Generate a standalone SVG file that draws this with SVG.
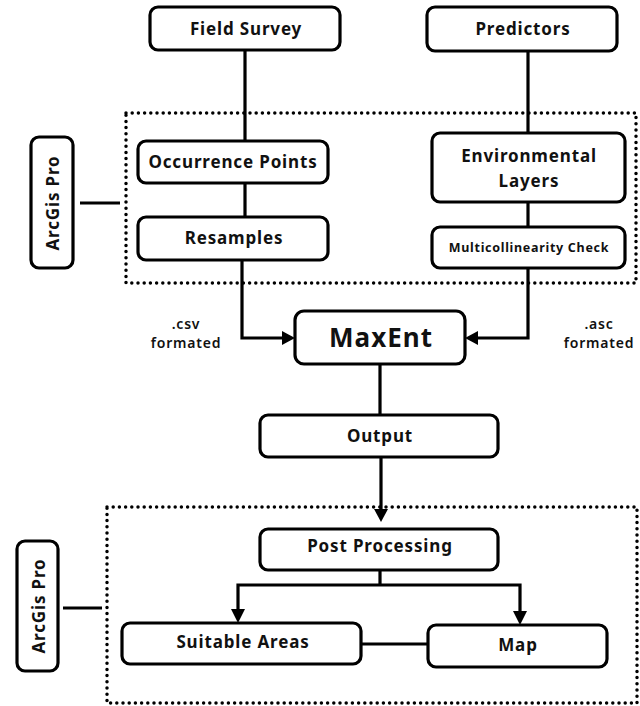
<svg xmlns="http://www.w3.org/2000/svg" width="640" height="706" viewBox="0 0 640 706">
<style>
.box{fill:#fff;stroke:#000;stroke-width:3.2}
.dot{fill:none;stroke:#000;stroke-width:3.5;stroke-dasharray:0 6.2;stroke-linecap:round}
.ln{fill:none;stroke:#000;stroke-width:3.2}
text{font-family:"Noto Sans","DejaVu Sans",sans-serif;font-weight:700;fill:#111;text-anchor:middle;dominant-baseline:central}
.t{font-size:17px;letter-spacing:0.85px}
.s{font-size:12.5px;letter-spacing:0.7px}
.m{font-size:14px;font-weight:600;letter-spacing:0.8px}
.big{font-size:26px;letter-spacing:1px}
</style>
<rect width="640" height="706" fill="#fff"/>
<g id="groups">
<rect class="dot" x="126" y="113" width="510" height="170"/>
<rect class="dot" x="107" y="507" width="530" height="196"/>
</g>
<g id="connectors">
<line class="ln" x1="245" y1="50" x2="245" y2="141"/>
<line class="ln" x1="245" y1="183" x2="245" y2="217"/>
<line class="ln" x1="528" y1="51" x2="528" y2="133"/>
<line class="ln" x1="528" y1="202" x2="528" y2="227"/>
<polyline class="ln" points="242,260 242,338 282,338"/>
<path d="M282,331 L295,338 L282,345 z"/>
<polyline class="ln" points="528,268 528,338 478,338"/>
<path d="M478,331 L465,338 L478,345 z"/>
<line class="ln" x1="380" y1="364" x2="380" y2="415"/>
<line class="ln" x1="381" y1="457" x2="381" y2="510"/>
<path d="M374,509 L381,522 L388,509 z"/>
<line class="ln" x1="380" y1="570" x2="380" y2="585"/>
<polyline class="ln" points="238,610 238,585 520,585 520,612"/>
<path d="M231,609 L238,623 L245,609 z"/>
<path d="M513,611 L520,625 L527,611 z"/>
<line class="ln" x1="361" y1="644" x2="428" y2="644"/>
<line class="ln" x1="80" y1="203" x2="120" y2="203"/>
<line class="ln" x1="63" y1="608" x2="102" y2="608"/>
</g>
<g id="field-survey"><rect class="box" x="150" y="7" width="190" height="43" rx="8"/><text class="t" x="246" y="28">Field Survey</text></g>
<g id="predictors"><rect class="box" x="427" y="7" width="190" height="44" rx="8"/><text class="t" x="523" y="28">Predictors</text></g>
<g id="occurrence-points"><rect class="box" x="138" y="141" width="190" height="42" rx="8"/><text class="t" x="233" y="161">Occurrence Points</text></g>
<g id="resamples"><rect class="box" x="138" y="217" width="190" height="43" rx="8"/><text class="t" x="234" y="237">Resamples</text></g>
<g id="environmental-layers"><rect class="box" x="432" y="133" width="193" height="69" rx="8"/><text class="t" x="529" y="155">Environmental</text><text class="t" x="529" y="180">Layers</text></g>
<g id="multicollinearity-check"><rect class="box" x="432" y="227" width="193" height="41" rx="8"/><text class="s" x="529" y="247">Multicollinearity Check</text></g>
<g id="arcgis-top"><rect class="box" x="31" y="137" width="42" height="131" rx="8"/><text class="t" transform="translate(52,203) rotate(-90)" x="0" y="0">ArcGis Pro</text></g>
<g id="maxent"><rect class="box" x="295" y="311" width="170" height="53" rx="9"/><text class="big" x="381" y="337">MaxEnt</text></g>
<g id="csv-label"><text class="m" x="186" y="323">.csv</text><text class="m" x="186" y="342">formated</text></g>
<g id="asc-label"><text class="m" x="599" y="323">.asc</text><text class="m" x="599" y="342">formated</text></g>
<g id="output"><rect class="box" x="260" y="415" width="238" height="42" rx="8"/><text class="t" x="380" y="435">Output</text></g>
<g id="post-processing"><rect class="box" x="260" y="529" width="238" height="41" rx="8"/><text class="t" x="380" y="545">Post Processing</text></g>
<g id="suitable-areas"><rect class="box" x="122" y="623" width="239" height="41" rx="8"/><text class="t" x="243" y="641">Suitable Areas</text></g>
<g id="map"><rect class="box" x="428" y="625" width="179" height="42" rx="8"/><text class="t" x="518" y="644">Map</text></g>
<g id="arcgis-bottom"><rect class="box" x="17" y="541" width="41" height="130" rx="8"/><text class="t" transform="translate(38,606) rotate(-90)" x="0" y="0">ArcGis Pro</text></g>
</svg>
